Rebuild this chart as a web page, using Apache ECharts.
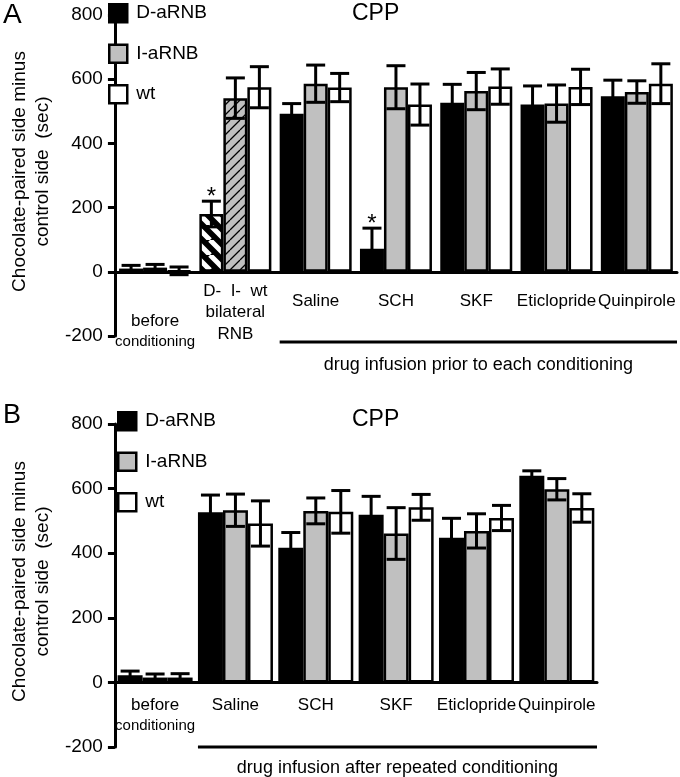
<!DOCTYPE html>
<html><head><meta charset="utf-8">
<script src="https://cdn.jsdelivr.net/npm/echarts@6/dist/echarts.min.js"></script>
<style>html,body{margin:0;padding:0;background:#fff}#c{width:680px;height:777px}</style>
</head><body><div id="c"></div>
<script>
// ---------- DATA ----------
const seriesNames = ['D-aRNB', 'I-aRNB', 'wt'];
const yTicks = { min: -200, max: 800, interval: 200 };

// Panel A
const catsA = ['before conditioning', 'bilateral RNB', 'Saline', 'SCH', 'SKF', 'Eticlopride', 'Quinpirole'];
const labelsA = [
  '{g| }\n{g2| }\n{n|before}\n{c|conditioning}',
  '{n|D-  I-  wt}\n{n|bilateral}\n{r|RNB}',
  '{g| }\n{n|Saline}', '{g| }\n{n|SCH}', '{g| }\n{n|SKF}', '{g| }\n{n|Eticlopride}', '{g| }\n{n|Quinpirole}'
];
const A_D = [10, 180, 492, 72, 527, 521, 547];
const A_D_err = [10, 40, 32, 64, 57, 58, 50];
const A_I = [13, 541, 586, 575, 563, 524, 560];
const A_I_err = [10, 63, 58, 67, 58, 58, 35];
const A_W = [3, 575, 574, 521, 577, 576, 586];
const A_W_err = [12, 64, 44, 64, 55, 55, 62];
const A_D_star = [0, 1, 0, 1, 0, 0, 0];
const A_hatchIndex = 1; // bilateral RNB group drawn with hatching
const bracketA = { from: 2, to: 6, text: 'drug infusion prior to each conditioning' };

// Panel B
const catsB = ['before conditioning', 'Saline', 'SCH', 'SKF', 'Eticlopride', 'Quinpirole'];
const labelsB = [
  '{n|before}\n{c|conditioning}',
  '{n|Saline}', '{n|SCH}', '{n|SKF}', '{n|Eticlopride}', '{n|Quinpirole}'
];
const B_D = [22, 527, 417, 519, 448, 640];
const B_D_err = [13, 53, 47, 57, 60, 15];
const B_I = [15, 533, 531, 461, 469, 598];
const B_I_err = [11, 50, 40, 80, 53, 33];
const B_W = [15, 492, 528, 542, 509, 540];
const B_W_err = [12, 70, 66, 40, 39, 44];
const B_D_star = [0, 0, 0, 0, 0, 0];
const bracketB = { from: 1, to: 5, text: 'drug infusion after repeated conditioning' };

// ---------- STYLE ----------
const FONT = "'Liberation Sans', Arial, Helvetica, sans-serif";
const colors = ['#000000', '#c0c0c0', '#ffffff'];

function stripes(bg, fg, lw, size, dir) {
  const c = document.createElement('canvas');
  c.width = size; c.height = size;
  const g = c.getContext('2d');
  g.fillStyle = bg; g.fillRect(0, 0, size, size);
  g.strokeStyle = fg; g.lineWidth = lw; g.beginPath();
  for (let k = -1; k <= 1; k++) {
    if (dir === '\\') { g.moveTo(k * size, 0); g.lineTo(k * size + size, size); }
    else { g.moveTo(k * size, size); g.lineTo(k * size + size, 0); }
  }
  g.stroke();
  return c;
}
const hatchD = { image: stripes('#000', '#fff', 5, 15, '\\'), repeat: 'repeat' };
const hatchI = { image: stripes('#c0c0c0', '#000', 1.3, 10, '/'), repeat: 'repeat' };

const grids = [
  { left: 97, top: 15, width: 580, height: 321 },
  { left: 100, top: 424, width: 497, height: 323 }
];

const panels = [
  { cats: catsA, labels: labelsA, vals: [A_D, A_I, A_W], errs: [A_D_err, A_I_err, A_W_err], stars: A_D_star,
    hatch: A_hatchIndex, bracket: bracketA, bw: 24, lineOff: 6, textOff: 29, labelMargin: 9,
    rich: {
      n: { fontSize: 17, lineHeight: 21, fontFamily: FONT, color: '#000' },
      c: { fontSize: 15, lineHeight: 21, fontFamily: FONT, color: '#000' },
      r: { fontSize: 17, lineHeight: 24, fontFamily: FONT, color: '#000' },
      g: { fontSize: 10, lineHeight: 10 },
      g2: { fontSize: 10, lineHeight: 20 }
    } },
  { cats: catsB, labels: labelsB, vals: [B_D, B_I, B_W], errs: [B_D_err, B_I_err, B_W_err], stars: B_D_star,
    hatch: -1, bracket: bracketB, bw: 25, lineOff: 0, textOff: 21, labelMargin: 12,
    rich: {
      n: { fontSize: 17, lineHeight: 21, fontFamily: FONT, color: '#000' },
      c: { fontSize: 15, lineHeight: 20, fontFamily: FONT, color: '#000' }
    } }
];

const xAxes = [], yAxes = [], series = [];
panels.forEach((p, pi) => {
  // put the category axis line (and its labels) at value 0
  const zeroOffset = -grids[pi].height * (0 - yTicks.min) / (yTicks.max - yTicks.min);
  xAxes.push({
    type: 'category', gridIndex: pi, data: p.cats, offset: zeroOffset,
    axisLine: { onZero: false, lineStyle: { color: '#000', width: 3 } },
    axisTick: { show: false },
    axisLabel: { interval: 0, margin: p.labelMargin, color: '#000', fontFamily: FONT,
      formatter: (v, i) => p.labels[i], rich: p.rich }
  });
  yAxes.push({
    type: 'value', gridIndex: pi, min: yTicks.min, max: yTicks.max, interval: yTicks.interval,
    axisLine: { show: true, lineStyle: { color: '#000', width: 3 } },
    axisTick: { show: true, length: 7, lineStyle: { color: '#000', width: 3 } },
    axisLabel: { fontSize: 19, color: '#000', fontFamily: FONT, margin: 12 },
    splitLine: { show: false },
    name: 'Chocolate-paired side minus\ncontrol side  (sec)',
    nameLocation: 'middle', nameRotate: 90, nameGap: 48,
    nameTextStyle: { fontSize: 19, lineHeight: 23, color: '#000', fontFamily: FONT, padding: [0, 0, 0, 8] }
  });
  p.vals.forEach((arr, si) => {
    series.push({
      type: 'bar', name: seriesNames[si], xAxisIndex: pi, yAxisIndex: pi,
      barWidth: p.bw, barGap: '0%',
      itemStyle: { color: colors[si], borderColor: '#000', borderWidth: 2.5 },
      data: arr.map((v, ci) => {
        if (ci === p.hatch && si === 0) return { value: v, itemStyle: { color: hatchD } };
        if (ci === p.hatch && si === 1) return { value: v, itemStyle: { color: hatchI } };
        return v;
      })
    });
  });
  const errData = [];
  p.vals.forEach((arr, si) => arr.forEach((v, ci) => {
    errData.push([ci, v, p.errs[si][ci], si, si === 0 ? p.stars[ci] : 0]);
  }));
  const bw = p.bw;
  series.push({
    type: 'custom', xAxisIndex: pi, yAxisIndex: pi, clip: false, z: 5,
    encode: { x: 0, y: 1 },
    data: errData,
    renderItem: (params, api) => {
      const ci = api.value(0), v = api.value(1), e = api.value(2), si = api.value(3), st = api.value(4);
      const x = api.coord([ci, v])[0] + (si - 1) * bw;
      const yt = api.coord([ci, v + e])[1];
      const yb = api.coord([ci, v - e])[1];
      const cap = 9.5;
      const st2 = { stroke: '#000', lineWidth: 3 };
      const ch = [
        { type: 'line', shape: { x1: x, y1: yt, x2: x, y2: yb }, style: st2 },
        { type: 'line', shape: { x1: x - cap, y1: yt, x2: x + cap, y2: yt }, style: st2 },
        { type: 'line', shape: { x1: x - cap, y1: yb, x2: x + cap, y2: yb }, style: st2 }
      ];
      if (st) ch.push({ type: 'text', style: { text: '*', x: x, y: yt - 4, fontSize: 24, fontFamily: FONT,
        fill: '#000', align: 'center', verticalAlign: 'middle' } });
      return { type: 'group', children: ch };
    }
  });
  const b = p.bracket;
  series.push({
    type: 'custom', xAxisIndex: pi, yAxisIndex: pi, clip: false, silent: true,
    encode: { x: 0, y: 1 },
    data: [[b.from, yTicks.min, b.to]],
    renderItem: (params, api) => {
      const x0 = api.coord([api.value(0), 0])[0] - 1.5 * bw;
      const x1 = api.coord([api.value(2), 0])[0] + api.size([1, 0])[0] / 2;
      const y = api.coord([0, api.value(1)])[1];
      return { type: 'group', children: [
        { type: 'line', shape: { x1: x0, y1: y + p.lineOff, x2: x1, y2: y + p.lineOff }, style: { stroke: '#000', lineWidth: 3 } },
        { type: 'text', style: { text: b.text, x: (x0 + x1) / 2, y: y + p.textOff, fontSize: 18, fontFamily: FONT,
          fill: '#000', align: 'center', verticalAlign: 'middle' } }
      ] };
    }
  });
});

const legendCommon = {
  orient: 'vertical', icon: 'rect', itemWidth: 18, itemHeight: 18, itemGap: 20,
  data: seriesNames, selectedMode: false,
  textStyle: { fontSize: 19, color: '#000', fontFamily: FONT, padding: [0, 0, 0, 4] },
  itemStyle: { borderColor: '#000', borderWidth: 2.5 }
};

const option = {
  backgroundColor: '#fff',
  animation: false,
  title: [
    { text: 'A', left: 3, top: 1, padding: 0, textStyle: { fontSize: 28, fontWeight: 'normal', color: '#000', fontFamily: FONT } },
    { text: 'CPP', left: 352, top: 2, padding: 0, textStyle: { fontSize: 23, fontWeight: 'normal', color: '#000', fontFamily: FONT } },
    { text: 'B', left: 3, top: 402, padding: 0, textStyle: { fontSize: 27, fontWeight: 'normal', color: '#000', fontFamily: FONT } },
    { text: 'CPP', left: 352, top: 408, padding: 0, textStyle: { fontSize: 23, fontWeight: 'normal', color: '#000', fontFamily: FONT } }
  ],
  legend: [
    Object.assign({ left: 108, top: 3, padding: 0 }, legendCommon),
    Object.assign({ left: 117, top: 411, padding: 0 }, legendCommon)
  ],
  grid: grids,
  xAxis: xAxes,
  yAxis: yAxes,
  series: series
};

const chart = echarts.init(document.getElementById('c'), null, { renderer: 'canvas' });
chart.setOption(option);
</script></body></html>
